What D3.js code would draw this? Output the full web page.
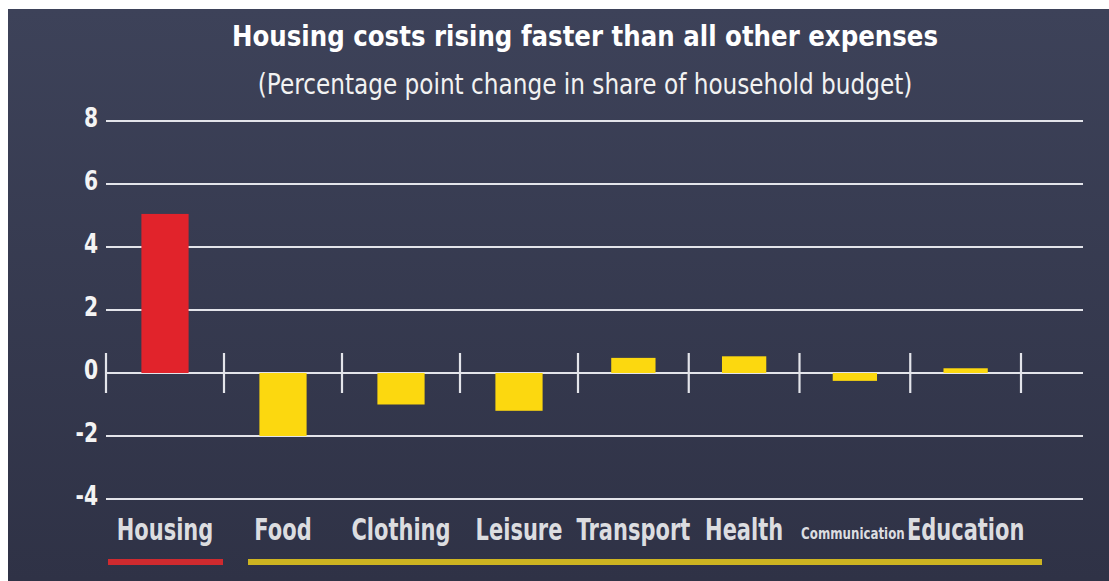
<html>
<head>
<meta charset="utf-8">
<style>
  body { margin: 0; background: #ffffff; }
  svg text { font-family: "DejaVu Sans", sans-serif; }
  .title { font-weight: bold; font-size: 28px; fill: #ffffff; }
  .subtitle { font-size: 29px; fill: #f2f2f2; }
  .grid line { stroke: #e3e4ea; stroke-width: 2.2; }
  .ylab text { font-weight: bold; font-size: 26px; fill: #f4f4f4; }
  .cat { font-weight: bold; fill: #dcdde0; }
</style>
</head>
<body>
<svg id="chart" width="1109" height="581"></svg>
<script src="https://cdnjs.cloudflare.com/ajax/libs/d3/7.8.5/d3.min.js"></script>
<script>
// data
let categories = ["Housing", "Food", "Clothing", "Leisure", "Transport", "Health", "Communication", "Education"]
let values = [5.05, -2.0, -1.0, -1.2, 0.48, 0.53, -0.25, 0.15]
let yTicks = [8, 6, 4, 2, 0, -2, -4]

let svg = d3.select("#chart")

// the original uses a condensed face, so squeeze DejaVu sideways
// (text is drawn at 0,0 and moved with a transform)
let squeeze = (x, y, k) => `translate(${x},${y}) scale(${k},1)`

// background panel with a soft top-to-bottom fade
let defs = svg.append("defs")
let grad = defs.append("linearGradient").attr("id", "bg").attr("x1", 0).attr("y1", 0).attr("x2", 0).attr("y2", 1)
grad.append("stop").attr("offset", "0%").attr("stop-color", "#3d4259")
grad.append("stop").attr("offset", "100%").attr("stop-color", "#2f3246")
svg.append("rect").attr("x", 8).attr("y", 9).attr("width", 1101).attr("height", 572).attr("fill", "url(#bg)")

let y = d3.scaleLinear().domain([-4, 8]).range([499, 121])

// category boundaries: first four bands a little wider than the last four
let xb = d3.scaleLinear().domain([0, 4, 8]).range([106, 578, 1021])
let bandWidth = i => xb(i + 1) - xb(i)
let bandMid = i => xb(i + 0.5)

svg.append("text").attr("class", "title")
   .attr("transform", squeeze(585, 46, 0.875)).attr("text-anchor", "middle")
   .text("Housing costs rising faster than all other expenses")
svg.append("text").attr("class", "subtitle")
   .attr("transform", squeeze(585, 94, 0.8)).attr("text-anchor", "middle")
   .text("(Percentage point change in share of household budget)")

// horizontal gridlines
let grid = svg.append("g").attr("class", "grid")
grid.selectAll("line")
    .data(yTicks)
    .enter()
    .append("line")
      .attr("x1", 106).attr("x2", 1083)
      .attr("y1", d => y(d)).attr("y2", d => y(d))

// category dividers on the zero line
grid.selectAll("line.tick")
    .data(d3.range(categories.length + 1))
    .enter()
    .append("line")
      .attr("class", "tick")
      .attr("x1", d => xb(d)).attr("x2", d => xb(d))
      .attr("y1", y(0) - 20).attr("y2", y(0) + 20)

let yAxis = d3.axisLeft(y).tickValues(yTicks).tickSize(0).tickPadding(0).tickFormat(d => String(d))
svg.append("g").attr("class", "ylab")
   .attr("transform", "translate(98,0)")
   .call(yAxis)
   .call(g => g.select(".domain").remove())
   .selectAll("text")
     .attr("x", 0).attr("dy", "0.22em")
     .attr("transform", "scale(0.78,1)")

// bars
svg.append("g").selectAll("rect")
   .data(values)
   .enter()
   .append("rect")
     .attr("x", (d, i) => bandMid(i) - bandWidth(i) * 0.2)
     .attr("width", (d, i) => bandWidth(i) * 0.4)
     .attr("y", d => y(Math.max(0, d)))
     .attr("height", d => Math.abs(y(d) - y(0)))
     .attr("fill", (d, i) => i == 0 ? "#e1232b" : "#fcd80f")

// category labels
svg.append("g").selectAll("text")
   .data(categories)
   .enter()
   .append("text")
     .attr("class", "cat")
     .attr("transform", (d, i) => d == "Communication"
        ? squeeze(bandMid(i) - 2, 539, 0.74)
        : squeeze(bandMid(i), 540, 0.70))
     .attr("text-anchor", "middle")
     .attr("font-size", d => d == "Communication" ? "16px" : "30px")
     .text(d => d)

// colour keys under the labels
svg.append("rect").attr("x", 108).attr("y", 559).attr("width", 115).attr("height", 6).attr("fill", "#cf2a2f")
svg.append("rect").attr("x", 248).attr("y", 559).attr("width", 794).attr("height", 6).attr("fill", "#cdb421")
</script>
</body>
</html>
